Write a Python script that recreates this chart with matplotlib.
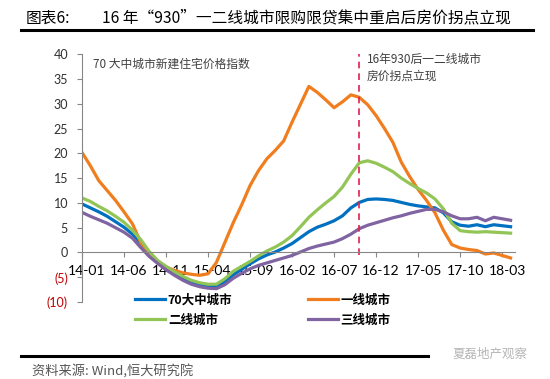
import matplotlib
matplotlib.use("Agg")
import matplotlib.pyplot as plt

plt.rcParams['font.family'] = ['Lato', 'Noto Sans CJK SC', 'DejaVu Sans']
plt.rcParams['axes.unicode_minus'] = False

# monthly, 14-01 .. 18-04
tick_labels = ["14-01", "14-06", "14-11", "15-04", "15-09", "16-02",
               "16-07", "16-12", "17-05", "17-10", "18-03"]

city70 = [9.8, 9.0, 8.2, 7.3, 6.2, 5.1, 3.7, 1.9, -0.3, -1.8,
          -3.1, -4.1, -5.1, -5.9, -6.5, -6.9, -6.8, -5.9, -4.5, -3.4,
          -2.3, -1.3, -0.5, 0.1, 0.9, 1.8, 3.0, 4.2, 5.1, 5.7,
          6.4, 7.4, 9.0, 10.1, 10.7, 10.8, 10.7, 10.5, 10.1, 9.7,
          9.4, 9.2, 9.0, 8.0, 6.2, 5.5, 5.3, 5.6, 5.2, 5.6,
          5.4, 5.2]
tier1 = [20.2, 17.5, 14.5, 12.5, 10.5, 8.2, 5.8, 2.0, -0.2, -1.8,
         -2.9, -3.6, -4.1, -4.4, -4.6, -4.3, -2.0, 2.0, 6.0, 9.6,
         13.5, 16.5, 18.9, 20.6, 22.5, 26.3, 29.9, 33.5, 32.3, 30.8,
         29.2, 30.4, 31.8, 31.3, 29.8, 27.6, 25.0, 22.2, 18.2, 15.3,
         12.7, 10.5, 8.0, 4.5, 1.6, 0.9, 0.6, 0.4, -0.3, -0.1,
         -0.6, -1.1]
tier2 = [11.0, 10.3, 9.3, 8.4, 7.3, 6.1, 4.5, 2.6, 0.2, -1.6,
         -2.8, -3.9, -4.8, -5.6, -6.1, -6.4, -6.4, -5.3, -3.8, -2.8,
         -1.8, -0.7, 0.3, 1.1, 2.1, 3.4, 5.2, 7.1, 8.6, 10.0,
         11.3, 13.2, 15.8, 18.1, 18.5, 18.0, 17.2, 16.3, 15.0, 13.9,
         12.9, 12.0, 10.8, 8.8, 5.9, 4.4, 4.2, 4.1, 4.2, 4.1,
         4.0, 3.9]
tier3 = [8.1, 7.3, 6.6, 5.9, 5.0, 4.1, 2.9, 1.0, -0.8, -2.2,
         -3.5, -4.6, -5.6, -6.4, -6.9, -7.2, -7.3, -6.5, -5.2, -4.2,
         -3.3, -2.6, -2.1, -1.6, -1.1, -0.6, 0.1, 0.8, 1.3, 1.7,
         2.1, 2.8, 3.7, 4.8, 5.5, 6.0, 6.5, 7.0, 7.4, 7.9,
         8.3, 8.7, 8.7, 8.2, 7.4, 6.8, 6.8, 7.1, 6.4, 7.1,
         6.8, 6.5]
event_idx = 33  # 16-10

fig = plt.figure(figsize=(5.5, 3.79), dpi=100)
ax = fig.add_axes([0.149, 0.203, 0.787, 0.654])

x = list(range(len(city70)))
l_blue, = ax.plot(x, city70, color='#0070C0', lw=2.3, label='70大中城市')
l_orange, = ax.plot(x, tier1, color='#F07D1E', lw=2.3, label='一线城市')
l_green, = ax.plot(x, tier2, color='#92C556', lw=2.3, label='二线城市')
l_purple, = ax.plot(x, tier3, color='#8064A2', lw=2.3, label='三线城市')

ax.plot([event_idx, event_idx], [-0.6, 40], color='#E0204F', lw=1.2, ls=(0, (4, 3)))

ax.set_xlim(0, 51.5)
ax.set_ylim(-10, 40)
# tick marks on the months, labels drawn a bit to the right (minor ticks)
ax.set_xticks(range(0, 51, 5))
ax.set_xticklabels([])
ax.set_xticks([i + 0.6 for i in range(0, 51, 5)], minor=True)
ax.set_xticklabels(tick_labels, minor=True, fontsize=7.8, color='#303030')
yt = list(range(-10, 41, 5))
ax.set_yticks(yt)
ax.set_yticklabels([f"({abs(v)})" if v < 0 else str(v) for v in yt], fontsize=9)
for v, lab in zip(yt, ax.get_yticklabels()):
    lab.set_color('#C00000' if v < 0 else '#303030')

for s in ['top', 'right']:
    ax.spines[s].set_visible(False)
ax.spines['bottom'].set_position(('data', 0))
ax.spines['bottom'].set_color('#868686')
ax.spines['left'].set_color('#868686')
ax.tick_params(axis='x', which='major', length=3.5, color='#868686')
ax.tick_params(axis='x', which='minor', length=0, pad=9)
ax.tick_params(axis='y', length=3.5, color='#868686', pad=6.5)

ax.text(0.025, 0.985, "70 大中城市新建住宅价格指数", transform=ax.transAxes,
        fontsize=8.5, color='#404040', va='top', ha='left', family=['Noto Sans CJK SC'])
ax.text(event_idx + 0.9, 37.3, "16年930后一二线城市\n房价拐点立现", fontsize=8.5,
        color='#404040', va='center', ha='left', linespacing=1.35,
        family=['Noto Sans CJK SC'])

fig.legend([l_blue, l_green, l_orange, l_purple],
           ['70大中城市', '二线城市', '一线城市', '三线城市'],
           ncol=2, loc='upper left', bbox_to_anchor=(0.245, 0.225),
           frameon=False, borderpad=0, borderaxespad=0, handlelength=2.4,
           handletextpad=0.25, columnspacing=6.0, labelspacing=0.55,
           prop={'family': 'Noto Sans CJK SC', 'weight': 'bold', 'size': 9})

# header and footer
fig.text(26 / 550, 1 - 18 / 379, "图表6:", fontsize=11.3, va='center', ha='left',
         family=['Noto Sans CJK SC'])
fig.text(102 / 550, 1 - 18 / 379, "16 年“930”一二线城市限购限贷集中重启后房价拐点立现",
         fontsize=11.3, va='center', ha='left', family=['Noto Sans CJK SC'])
fig.add_artist(plt.Line2D([21 / 550, 533 / 550], [1 - 30 / 379, 1 - 30 / 379],
                          color='black', lw=2.2))
fig.add_artist(plt.Line2D([21 / 550, 428 / 550], [1 - 356 / 379, 1 - 356 / 379],
                          color='black', lw=2.2))
fig.text(452 / 550, 1 - 354 / 379, "夏磊地产观察", fontsize=9, color='#B5B5B5',
         va='center', ha='left', family=['Noto Sans CJK SC'])
fig.text(32 / 550, 1 - 372 / 379, "资料来源: Wind,恒大研究院", fontsize=9.5,
         color='#555555', va='center', ha='left', style='italic',
         family=['Noto Sans CJK SC', 'DejaVu Sans'])

fig.savefig("out.png", dpi=100)
